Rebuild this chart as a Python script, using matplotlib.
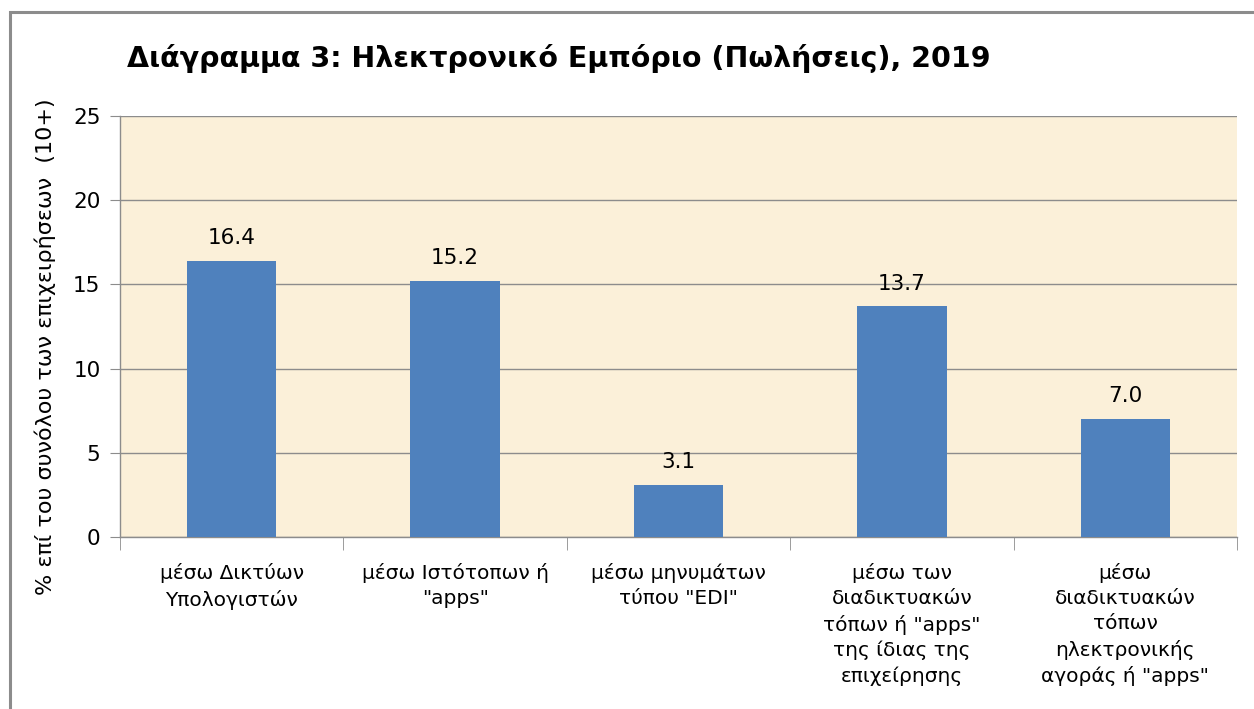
import matplotlib
matplotlib.use("Agg")
import matplotlib.pyplot as plt
from matplotlib.patches import Rectangle

categories = [
    "μέσω Δικτύων\nΥπολογιστών",
    "μέσω Ιστότοπων ή\n\"apps\"",
    "μέσω μηνυμάτων\nτύπου \"EDI\"",
    "μέσω των\nδιαδικτυακών\nτόπων ή \"apps\"\nτης ίδιας της\nεπιχείρησης",
    "μέσω\nδιαδικτυακών\nτόπων\nηλεκτρονικής\nαγοράς ή \"apps\"",
]
values = [16.4, 15.2, 3.1, 13.7, 7.0]
yticks = [0, 5, 10, 15, 20, 25]
title = "Διάγραμμα 3: Ηλεκτρονικό Εμπόριο (Πωλήσεις), 2019"
ylabel = "% επί του συνόλου των επιχειρήσεων  (10+)"

W, H = 1254, 709
fig = plt.figure(figsize=(W / 100, H / 100), dpi=100)
fig.patch.set_facecolor("white")

# outer chart border (top and left visible)
fig.patches.append(Rectangle((10 / W, -0.05), 1.2, 1 - 12 / H + 0.05,
                             transform=fig.transFigure, fill=False,
                             edgecolor="#8C8C8C", linewidth=2.2))

ax = fig.add_axes([120 / W, 1 - 537 / H, (1237 - 120) / W, (537 - 116) / H])
ax.set_facecolor("#FBF0D9")

x = list(range(len(values)))
ax.bar(x, values, width=0.4, color="#4F81BD", zorder=3)
for xi, v in zip(x, values):
    ax.text(xi, v + 0.75, f"{v:.1f}", ha="center", va="bottom",
            fontsize=15.5, family="DejaVu Sans", zorder=4)

ax.set_xlim(-0.5, len(values) - 0.5)
ax.set_ylim(0, 25)
ax.set_yticks(yticks)
ax.set_yticklabels([str(t) for t in yticks], fontsize=15.5)
ax.grid(axis="y", color="#8C8C8C", linewidth=1.0, zorder=1)

ax.set_xticks(x)
ax.set_xticklabels(categories, fontsize=14.5, family="DejaVu Sans",
                   linespacing=1.4, va="top")
ax.tick_params(axis="x", length=0, pad=19)
# category boundary tick marks
ax.set_xticks([i - 0.5 for i in range(len(values) + 1)], minor=True)
ax.tick_params(axis="x", which="minor", length=9, color="#8C8C8C", direction="out")
ax.tick_params(axis="y", length=7, color="#8C8C8C", direction="out", pad=7)

for s in ["top", "right"]:
    ax.spines[s].set_visible(False)
for s in ["left", "bottom"]:
    ax.spines[s].set_color("#8C8C8C")
    ax.spines[s].set_linewidth(1.0)

fig.text(127 / W, 1 - 67 / H, title, fontsize=20.5, fontweight="bold",
         ha="left", va="baseline", family="DejaVu Sans")
fig.text(45 / W, 1 - 347 / H, ylabel, rotation=90, fontsize=16,
         ha="center", va="center", family="DejaVu Sans")

fig.savefig("out.png", dpi=100)
